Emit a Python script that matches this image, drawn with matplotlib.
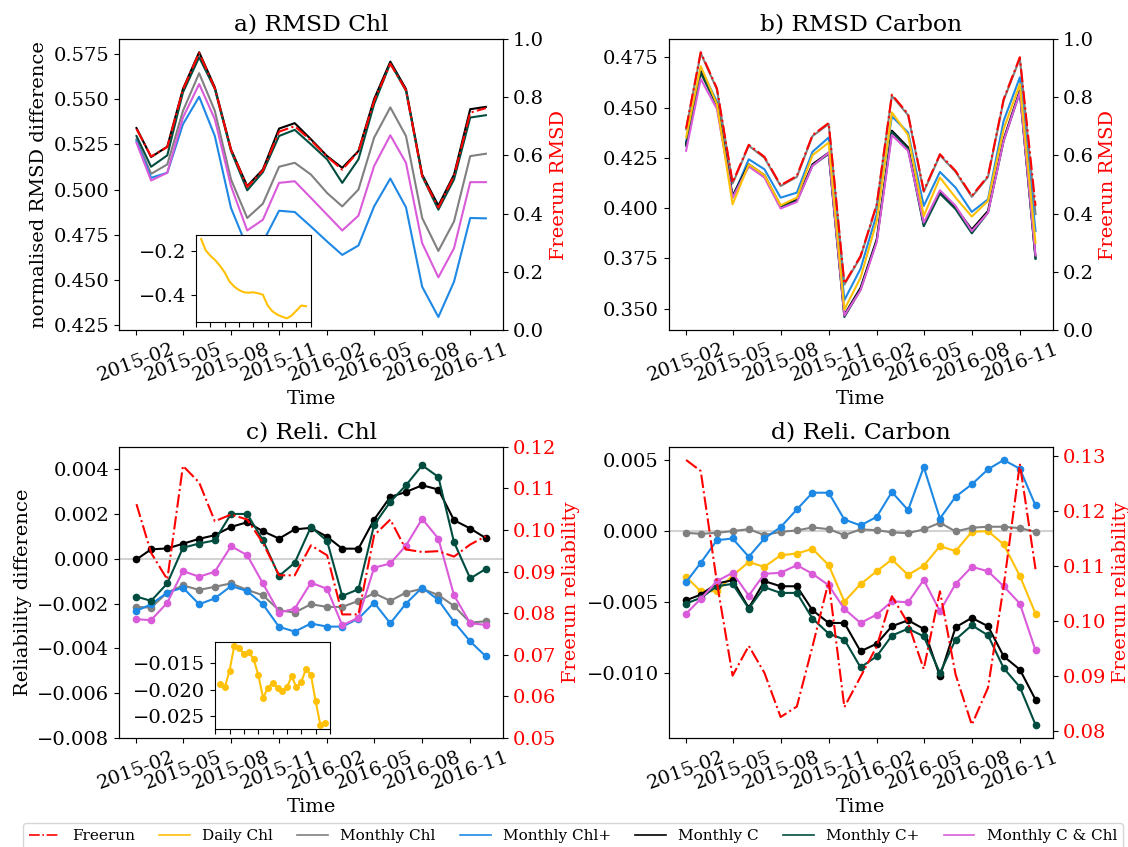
import matplotlib
matplotlib.use("Agg")
import matplotlib.pyplot as plt
import matplotlib.dates as mdates
from matplotlib.ticker import MultipleLocator
from matplotlib.lines import Line2D
import pandas as pd

plt.rcParams['font.family'] = 'DejaVu Serif'
plt.rcParams['font.size'] = 14

# monthly time axis
dates = pd.date_range('2015-02-01', periods=23, freq='MS')
main_ticks = pd.date_range('2015-02-01', '2016-11-01', freq='3MS')
inset_ticks = pd.date_range('2015-01-01', '2017-01-01', freq='3MS')

names = ['Freerun', 'Daily Chl', 'Monthly Chl', 'Monthly Chl+', 'Monthly C', 'Monthly C+', 'Monthly C & Chl']
colors = ['red', '#FFC107', 'grey', '#1E88E5', 'black', '#004D40', '#DA5BDA']

# --- a) RMSD Chl ---
a_free = [0.5335, 0.5183, 0.5235, 0.5553, 0.5755, 0.5560, 0.5220, 0.5015, 0.5105, 0.5320, 0.5350, 0.5272,
          0.5182, 0.5110, 0.5210, 0.5490, 0.5695, 0.5550, 0.5075, 0.4900, 0.5075, 0.5425, 0.5450]
a_daily = [-0.147, -0.197, -0.223, -0.242, -0.268, -0.298, -0.339, -0.363, -0.378, -0.388, -0.390, -0.388,
           -0.393, -0.399, -0.448, -0.474, -0.489, -0.498, -0.506, -0.493, -0.471, -0.448, -0.451]
a_mchl = [0.5278, 0.5087, 0.5139, 0.5435, 0.5643, 0.5435, 0.5056, 0.4843, 0.4922, 0.5126, 0.5148, 0.5083,
          0.4981, 0.4907, 0.5000, 0.5287, 0.5454, 0.5296, 0.4843, 0.4661, 0.4824, 0.5185, 0.5198]
a_mchlp = [0.5269, 0.5065, 0.5093, 0.5361, 0.5513, 0.5296, 0.4898, 0.4680, 0.4710, 0.4883, 0.4876, 0.4796,
           0.4713, 0.4639, 0.4691, 0.4907, 0.5061, 0.4902, 0.4463, 0.4296, 0.4491, 0.4843, 0.4841]
a_mc = [0.5340, 0.5180, 0.5237, 0.5556, 0.5759, 0.5565, 0.5222, 0.5019, 0.5111, 0.5337, 0.5367, 0.5278,
        0.5185, 0.5120, 0.5213, 0.5500, 0.5707, 0.5556, 0.5083, 0.4911, 0.5083, 0.5444, 0.5457]
a_mcp = [0.5296, 0.5126, 0.5189, 0.5537, 0.5731, 0.5556, 0.5213, 0.4996, 0.5096, 0.5296, 0.5330, 0.5250,
         0.5167, 0.5037, 0.5167, 0.5472, 0.5698, 0.5546, 0.5074, 0.4889, 0.5056, 0.5398, 0.5411]
a_mcchl = [0.5259, 0.5050, 0.5093, 0.5398, 0.5583, 0.5389, 0.5019, 0.4774, 0.4833, 0.5037, 0.5046, 0.4954,
           0.4861, 0.4774, 0.4856, 0.5130, 0.5300, 0.5148, 0.4704, 0.4515, 0.4676, 0.5041, 0.5041]

# --- b) RMSD Carbon ---
b_free = [0.4396, 0.4775, 0.4595, 0.4127, 0.4315, 0.4255, 0.4114, 0.4160, 0.4363, 0.4423, 0.3625, 0.3762,
          0.4019, 0.4564, 0.4468, 0.4086, 0.4268, 0.4185, 0.4061, 0.4160, 0.4542, 0.4750, 0.4011]
b_daily = [0.4351, 0.4705, 0.4517, 0.4019, 0.4218, 0.4164, 0.4014, 0.4052, 0.4263, 0.4326, 0.3496, 0.3654,
           0.3936, 0.4476, 0.4363, 0.3961, 0.4152, 0.4052, 0.3958, 0.4036, 0.4393, 0.4617, 0.3828]
b_mchl = [0.4392, 0.4770, 0.4590, 0.4122, 0.4310, 0.4250, 0.4110, 0.4155, 0.4358, 0.4418, 0.3620, 0.3757,
          0.4014, 0.4558, 0.4462, 0.4081, 0.4263, 0.4180, 0.4056, 0.4155, 0.4536, 0.4744, 0.3970]
b_mchlp = [0.4326, 0.4695, 0.4529, 0.4052, 0.4243, 0.4193, 0.4052, 0.4077, 0.4280, 0.4351, 0.3543, 0.3699,
           0.3970, 0.4456, 0.4376, 0.4011, 0.4180, 0.4102, 0.3981, 0.4044, 0.4434, 0.4650, 0.3886]
b_mc = [0.4318, 0.4679, 0.4517, 0.4061, 0.4218, 0.4164, 0.4011, 0.4041, 0.4218, 0.4276, 0.3470, 0.3604,
        0.3845, 0.4385, 0.4302, 0.3919, 0.4081, 0.4003, 0.3894, 0.3986, 0.4343, 0.4584, 0.3753]
b_mcp = [0.4310, 0.4672, 0.4510, 0.4055, 0.4212, 0.4158, 0.4005, 0.4035, 0.4212, 0.4270, 0.3459, 0.3595,
         0.3838, 0.4378, 0.4295, 0.3910, 0.4072, 0.3995, 0.3875, 0.3978, 0.4335, 0.4576, 0.3748]
b_mcchl = [0.4285, 0.4642, 0.4493, 0.4052, 0.4207, 0.4152, 0.3998, 0.4031, 0.4210, 0.4276, 0.3466, 0.3592,
           0.3831, 0.4363, 0.4285, 0.3928, 0.4089, 0.4011, 0.3886, 0.3977, 0.4335, 0.4576, 0.3765]

# --- c) Reli. Chl ---
c_free = [0.1062, 0.0945, 0.0881, 0.1154, 0.1114, 0.1021, 0.1037, 0.1025, 0.0969, 0.0891, 0.0891, 0.0963,
          0.0939, 0.0797, 0.0797, 0.0987, 0.1025, 0.0953, 0.0947, 0.0949, 0.0936, 0.0965, 0.0985]
c_daily = [-0.0189, -0.0196, -0.0164, -0.0117, -0.0122, -0.0132, -0.0129, -0.0142, -0.0172, -0.0216, -0.0197, -0.0187,
           -0.0197, -0.0202, -0.0196, -0.0175, -0.0196, -0.0186, -0.0161, -0.0172, -0.0222, -0.0268, -0.0263]
c_mchl = [-0.00215, -0.00218, -0.00151, -0.00119, -0.00139, -0.00125, -0.00110, -0.00139, -0.00163, -0.00230, -0.00240, -0.00203,
          -0.00215, -0.00215, -0.00188, -0.00154, -0.00188, -0.00151, -0.00134, -0.00162, -0.00211, -0.00285, -0.00279]
c_mchlp = [-0.00233, -0.00203, -0.00151, -0.00129, -0.00203, -0.00177, -0.00122, -0.00144, -0.00203, -0.00304, -0.00325, -0.00289,
           -0.00303, -0.00303, -0.00267, -0.00196, -0.00288, -0.00200, -0.00129, -0.00184, -0.00282, -0.00369, -0.00436]
c_mc = [-0.00003, 0.00042, 0.00046, 0.00067, 0.00089, 0.00105, 0.00142, 0.00163, 0.00123, 0.00090, 0.00131, 0.00138,
        0.00098, 0.00045, 0.00045, 0.00175, 0.00276, 0.00298, 0.00328, 0.00309, 0.00172, 0.00135, 0.00092]
c_mcp = [-0.00169, -0.00188, -0.00110, 0.00049, 0.00068, 0.00082, 0.00200, 0.00200, 0.00083, -0.00077, -0.00018, 0.00142,
         0.00079, -0.00166, -0.00136, 0.00151, 0.00254, 0.00328, 0.00417, 0.00365, 0.00074, -0.00088, -0.00045]
c_mcchl = [-0.00270, -0.00274, -0.00196, -0.00055, -0.00080, -0.00058, 0.00056, 0.00016, -0.00110, -0.00240, -0.00223, -0.00107,
           -0.00134, -0.00297, -0.00263, -0.00040, -0.00021, 0.00059, 0.00178, 0.00090, -0.00163, -0.00288, -0.00295]

# --- d) Reli. Carbon ---
d_free = [0.1292, 0.1272, 0.1070, 0.0901, 0.0955, 0.0906, 0.0826, 0.0845, 0.0954, 0.1072, 0.0844, 0.0899,
          0.0954, 0.1045, 0.0996, 0.0913, 0.1054, 0.0903, 0.0812, 0.0879, 0.1063, 0.1285, 0.1094]
d_daily = [-0.00323, -0.00424, -0.00424, -0.00313, -0.00219, -0.00252, -0.00170, -0.00158, -0.00125, -0.00240, -0.00497, -0.00374,
           -0.00283, -0.00200, -0.00309, -0.00243, -0.00106, -0.00141, -0.00005, 0.00000, -0.00094, -0.00316, -0.00582]
d_mchl = [-0.00012, -0.00019, -0.00012, 0.00000, 0.00014, -0.00028, -0.00005, 0.00005, 0.00026, 0.00014, -0.00028, 0.00012,
          0.00007, -0.00009, -0.00014, 0.00012, 0.00059, -0.00002, 0.00024, 0.00031, 0.00031, 0.00021, -0.00005]
d_mchlp = [-0.00360, -0.00224, -0.00064, -0.00052, -0.00181, -0.00052, 0.00028, 0.00153, 0.00271, 0.00271, 0.00082, 0.00040,
           0.00101, 0.00276, 0.00148, 0.00452, 0.00089, 0.00243, 0.00330, 0.00436, 0.00502, 0.00440, 0.00181]
d_mc = [-0.00488, -0.00448, -0.00370, -0.00346, -0.00542, -0.00353, -0.00389, -0.00389, -0.00558, -0.00648, -0.00648, -0.00848,
        -0.00794, -0.00671, -0.00629, -0.00690, -0.01024, -0.00678, -0.00612, -0.00671, -0.00883, -0.00977, -0.01189]
d_mcp = [-0.00511, -0.00471, -0.00389, -0.00372, -0.00546, -0.00396, -0.00436, -0.00436, -0.00617, -0.00723, -0.00765, -0.00961,
         -0.00883, -0.00737, -0.00688, -0.00742, -0.01001, -0.00765, -0.00664, -0.00735, -0.00966, -0.01100, -0.01366]
d_mcchl = [-0.00582, -0.00478, -0.00353, -0.00294, -0.00455, -0.00301, -0.00294, -0.00240, -0.00301, -0.00382, -0.00549, -0.00648,
           -0.00589, -0.00495, -0.00502, -0.00344, -0.00565, -0.00372, -0.00252, -0.00283, -0.00389, -0.00511, -0.00841]


def date_axis(ax):
    ax.set_xticks(main_ticks)
    ax.xaxis.set_major_formatter(mdates.DateFormatter('%Y-%m'))
    plt.setp(ax.get_xticklabels(), rotation=20, ha='center')
    ax.set_xlabel('Time')


def add_inset(ax, values, rect, marker=None):
    ins = ax.inset_axes(rect)
    ins.plot(dates, values, color=colors[1], marker=marker, markersize=8 if marker else None)
    ins.set_xticks(inset_ticks)
    ins.set_xticklabels([])
    return ins


fig, axes = plt.subplots(2, 2, figsize=(11.28, 8.47))
plt.subplots_adjust(left=0.1055, right=0.9335, top=0.954, bottom=0.1287, wspace=0.43, hspace=0.40)

# a) and b): RMSD, no markers; daily chl only in inset for a)
for ax, title, data, daily in [
    (axes[0, 0], 'a) RMSD Chl', [a_mchl, a_mchlp, a_mc, a_mcp, a_mcchl, a_free], a_daily),
    (axes[0, 1], 'b) RMSD Carbon', [b_mchl, b_mchlp, b_mc, b_mcp, b_mcchl, b_free], b_daily),
]:
    cols = colors[2:] + [colors[0]]
    for k, (vals, col) in enumerate(zip(data, cols)):
        if k == len(data) - 1:
            ax.plot(dates, vals, color=col, linestyle='-.', zorder=5)
        else:
            ax.plot(dates, vals, color=col)
    if title.startswith('b'):
        ax.plot(dates, daily, color=colors[1], zorder=2.5)
    ax.set_title(title)
    date_axis(ax)
    tw = ax.twinx()
    tw.set_ylabel('Freerun RMSD', color='red')

axes[0, 0].set_ylabel('normalised RMSD difference')
axes[0, 1].yaxis.set_major_locator(MultipleLocator(0.025))
add_inset(axes[0, 0], a_daily, [0.2, 0.027, 0.3, 0.30])

# c) and d): reliability with markers, freerun on twin axis
twins = []
for ax, title, free, series in [
    (axes[1, 0], 'c) Reli. Chl', c_free, [c_mchl, c_mchlp, c_mc, c_mcp, c_mcchl]),
    (axes[1, 1], 'd) Reli. Carbon', d_free, [d_daily, d_mchl, d_mchlp, d_mc, d_mcp, d_mcchl]),
]:
    ax.axhline(0, color='grey', alpha=0.35, lw=1.5, zorder=0)
    cols = colors[2:] if len(series) == 5 else colors[1:]
    for vals, col in zip(series, cols):
        ax.plot(dates, vals, color=col, marker='.', markersize=9)
    ax.set_title(title)
    date_axis(ax)
    tw = ax.twinx()
    tw.plot(dates, free, color='red', linestyle='-.')
    tw.set_ylabel('Freerun reliability', color='red')
    tw.tick_params(axis='y', labelcolor='red')
    twins.append(tw)

axes[1, 0].set_ylabel('Reliability difference')
axes[1, 0].set_ylim(-0.008, 0.005)
twins[0].set_ylim(0.05, 0.12)
add_inset(axes[1, 0], c_daily, [0.25, 0.03, 0.3, 0.30], marker='.')

handles = [Line2D([], [], color=c, lw=1.2, linestyle='-.' if n == 'Freerun' else '-') for n, c in zip(names, colors)]
fig.legend(handles, names, loc='upper center', bbox_to_anchor=(0.508, 0.0283), ncol=7, fontsize=11,
           borderaxespad=0, columnspacing=1.6)

plt.savefig('out.png', dpi=100)
